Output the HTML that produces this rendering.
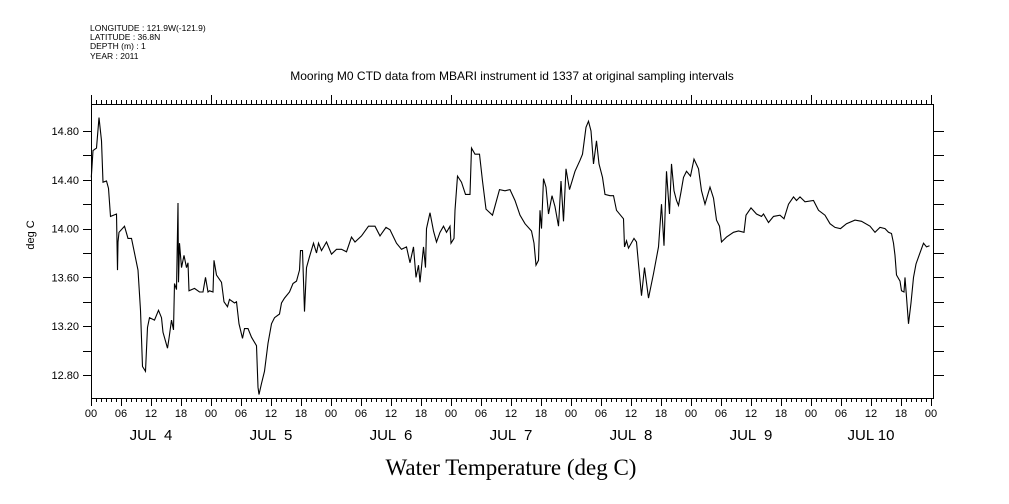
<!DOCTYPE html>
<html><head><meta charset="utf-8">
<style>
html,body{margin:0;padding:0;background:#fff;}
svg{display:block;font-family:"Liberation Sans",sans-serif;}
</style></head>
<body>
<svg id="chart" width="1009" height="504" viewBox="0 0 1009 504" xmlns="http://www.w3.org/2000/svg">
<rect x="0" y="0" width="1009" height="504" fill="#fff"/>
<g font-size="8.5" fill="#000">
<text x="90" y="31">LONGITUDE : 121.9W(-121.9)</text>
<text x="90" y="40">LATITUDE : 36.8N</text>
<text x="90" y="49">DEPTH (m) : 1</text>
<text x="90" y="59">YEAR : 2011</text>
</g>
<text x="512" y="80" text-anchor="middle" font-size="12">Mooring M0 CTD data from MBARI instrument id 1337 at original sampling intervals</text>
<text x="511" y="475" text-anchor="middle" font-family="Liberation Serif, serif" font-size="23">Water Temperature (deg C)</text>
<text transform="translate(34,235) rotate(-90)" text-anchor="middle" font-size="11">deg C</text>
<g id="axes"></g>
<g id="series"></g>
</svg>
<script>
const hours=[0.06,0.4,1.1,1.6,2.1,2.4,3.1,3.5,3.9,5.1,5.3,5.4,5.6,6.7,7.4,8.1,8.7,9.4,9.9,10.3,10.9,11.3,11.7,12.7,13.5,14.1,14.4,15.3,15.6,16.1,16.5,16.7,17.1,17.4,17.5,17.7,18.1,18.6,19.1,19.4,19.6,20.7,21.7,22.4,22.9,23.4,23.7,24.4,24.6,25.1,26.1,26.6,27.3,27.7,28.7,29.1,29.6,30.3,30.7,31.4,32.1,33.1,33.4,33.6,34.1,34.7,35.4,36.1,36.7,37.7,38.1,38.7,39.7,40.4,41.1,41.7,41.9,42.1,42.3,42.7,43.1,43.7,44.5,45.1,45.5,46.1,47.1,48.1,49.1,50.1,51.1,52.1,52.8,54.1,55.5,56.8,57.8,59,59.8,61.1,62.1,63.1,63.8,64.5,65,65.5,65.8,66.5,66.9,67.1,67.8,68.5,69.1,69.8,70.5,71.1,71.8,72,72.6,72.8,73.3,74.1,74.9,75.8,76.1,76.8,77.7,78.3,79,79.5,80.3,81.7,82.8,83.8,84.8,85.8,86.8,88.1,88.6,89,89.5,89.8,90.1,90.5,91,91.5,92.2,92.8,93.5,94,94.5,95,95.7,96.8,97.8,98.3,99,99.5,100,100.5,101.1,101.6,102.3,102.8,103.8,104.5,105.1,106.5,106.7,107.1,107.5,108.6,109.1,109.5,110.1,110.7,111.5,112.5,113.5,114.1,114.6,115.1,115.7,116.1,116.6,117.1,117.5,118,118.5,119.1,119.9,120.6,121.5,122.1,122.8,123.8,124.5,125.1,125.7,126.1,127.1,128.5,129.5,130.6,131,132,133.1,134.1,134.5,135.5,136.5,137.8,138.6,139.5,140.5,141.1,141.8,142.8,144.5,145.5,146.8,147.8,148.8,149.9,151.1,152.8,154.1,155.8,156.8,157.8,158.8,159.5,160.1,160.5,160.8,161.1,161.8,162.1,162.6,162.8,163.1,163.5,164,164.5,165,165.7,166.5,167.1,167.7];
const temps=[14.42,14.64,14.66,14.91,14.72,14.38,14.39,14.33,14.10,14.12,13.66,13.89,13.97,14.02,13.92,13.92,13.80,13.66,13.33,12.87,12.83,13.19,13.27,13.25,13.33,13.27,13.15,13.02,13.10,13.25,13.17,13.55,13.50,14.21,13.56,13.88,13.68,13.78,13.68,13.72,13.49,13.51,13.48,13.48,13.60,13.48,13.49,13.48,13.74,13.62,13.56,13.40,13.36,13.42,13.39,13.40,13.22,13.10,13.18,13.18,13.11,13.04,12.70,12.64,12.73,12.83,13.06,13.22,13.27,13.30,13.39,13.43,13.48,13.55,13.57,13.66,13.82,13.82,13.82,13.32,13.68,13.77,13.88,13.80,13.88,13.82,13.89,13.79,13.83,13.83,13.81,13.93,13.89,13.94,14.02,14.02,13.94,14.01,13.99,13.88,13.83,13.85,13.72,13.85,13.60,13.70,13.56,13.85,13.68,14.00,14.13,13.98,13.89,13.97,14.02,13.97,14.02,13.88,13.92,14.15,14.43,14.38,14.28,14.28,14.66,14.61,14.61,14.39,14.16,14.14,14.11,14.32,14.31,14.32,14.23,14.11,14.04,13.98,13.88,13.70,13.74,14.15,14.00,14.41,14.34,14.12,14.27,14.18,14.02,14.39,14.06,14.49,14.32,14.47,14.56,14.61,14.83,14.88,14.80,14.53,14.72,14.53,14.42,14.28,14.27,14.27,14.15,14.08,13.85,13.90,13.84,13.92,13.89,13.71,13.45,13.68,13.43,13.63,13.85,14.20,13.86,14.47,14.12,14.53,14.31,14.23,14.19,14.30,14.42,14.47,14.43,14.57,14.49,14.31,14.20,14.34,14.25,14.07,14.02,13.89,13.93,13.97,13.98,13.97,14.11,14.17,14.12,14.10,14.12,14.05,14.10,14.11,14.08,14.20,14.26,14.23,14.26,14.22,14.23,14.15,14.11,14.04,14.01,14.00,14.04,14.07,14.06,14.02,13.97,14.01,14.00,13.97,13.96,13.88,13.78,13.62,13.57,13.49,13.48,13.60,13.44,13.22,13.39,13.60,13.71,13.79,13.88,13.85,13.86];
const yTickLabels=["12.80","13.20","13.60","14.00","14.40","14.80"];
const dayLabels=["JUL  4","JUL  5","JUL  6","JUL  7","JUL  8","JUL  9","JUL 10"];
const hourLabels=["00","06","12","18"];

const X0=91,X1=931,RX=933,Y0=104,Y1=398;
function xs(h){return X0+h*5;}
function ys(v){return 375-(v-12.8)*122;}
const NS="http://www.w3.org/2000/svg";
const axes=document.getElementById('axes');
function ln(x1,y1,x2,y2,name){
  const l=document.createElementNS(NS,'line');
  l.setAttribute('x1',x1);l.setAttribute('y1',y1);l.setAttribute('x2',x2);l.setAttribute('y2',y2);
  l.setAttribute('stroke','#000');l.setAttribute('stroke-width','1');
  
  
  axes.appendChild(l);return l;
}
function tx(x,y,s,size,anchor,name){
  const t=document.createElementNS(NS,'text');
  t.setAttribute('x',x);t.setAttribute('y',y);t.setAttribute('font-size',size);
  t.setAttribute('text-anchor',anchor);t.textContent=s;
  
  
  t.setAttribute('xml:space','preserve');t.style.whiteSpace='pre';
  axes.appendChild(t);return t;
}
// frame
const fr=document.createElementNS(NS,'rect');
fr.setAttribute('x',X0+0.5);fr.setAttribute('y',Y0+0.5);fr.setAttribute('width',RX-X0);fr.setAttribute('height',Y1-Y0);
fr.setAttribute('fill','none');fr.setAttribute('stroke','#000');


axes.appendChild(fr);
// x ticks
for(let h=0;h<=168;h++){
  const x=xs(h)+0.5;
  const maj6=h%6===0, day=h%24===0;
  ln(x,Y1,x,Y1+(maj6?8:4),'x-tick');
  ln(x,Y0,x,Y0-(day?9:4),'top-tick');
  if(maj6) tx(xs(h),417,hourLabels[(h/6)%4],11,'middle','x-tick-label');
}
for(let d=0;d<dayLabels.length;d++){
  tx(xs(d*24+12),440,dayLabels[d],15,'middle','day-label');
}
// y ticks
for(let k=0;k<=10;k++){
  const v=12.8+k*0.2;const y=Math.round(ys(v))+0.5;
  if(y<Y0||y>Y1)continue;
  ln(X0-8,y,X0,y,'y-tick');
  ln(RX,y,RX+11,y,'right-y-tick');
}
yTickLabels.forEach(s=>{const y=ys(parseFloat(s));tx(X0-12,y+4,s,11,'end','y-tick-label');});
// series
let d='';
for(let i=0;i<hours.length;i++){d+=(i?'L':'M')+xs(hours[i]).toFixed(1)+','+ys(temps[i]).toFixed(1);}
const p=document.createElementNS(NS,'path');
p.setAttribute('d',d);p.setAttribute('fill','none');p.setAttribute('stroke','#000');p.setAttribute('stroke-width','1.1');


document.getElementById('series').appendChild(p);
</script>
</body></html>
